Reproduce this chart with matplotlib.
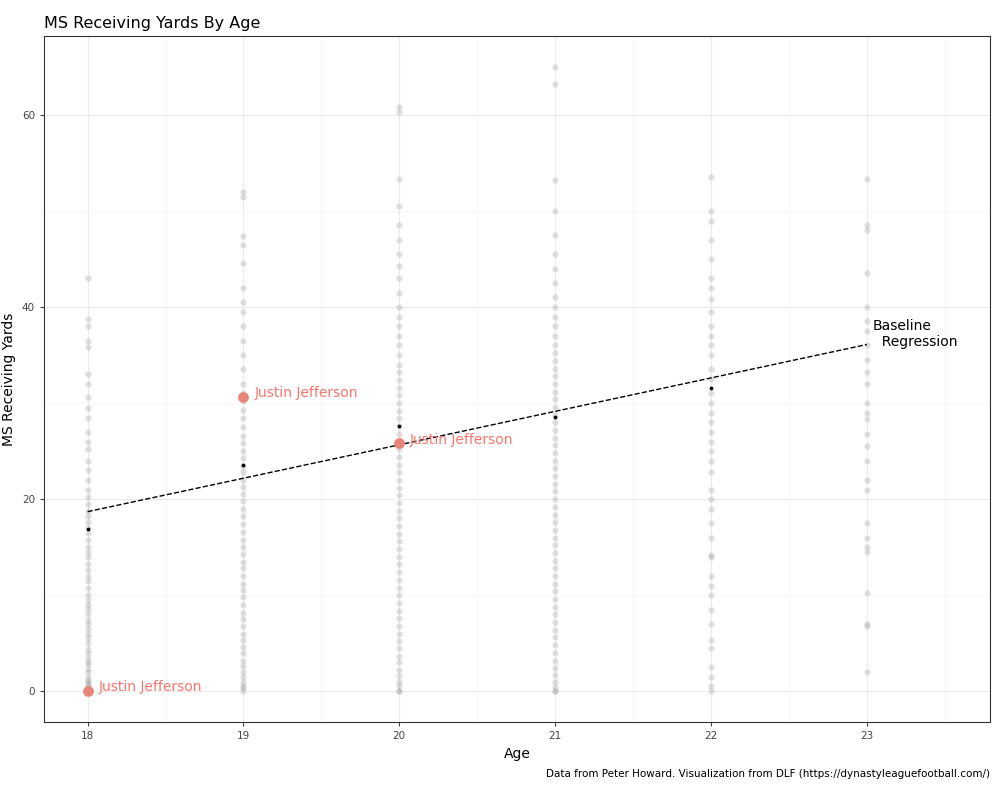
import numpy as np
import matplotlib; matplotlib.use("Agg")
import matplotlib.pyplot as plt

# gray points: MS receiving yards read (approximately) by age
ys18 = [0,0,0,0.3,0.5,0.8,1,1.2,1.5,2,2.3,2.8,3,3.5,4,4.4,5,5.5,6,6.5,7,7.4,8,8.6,9,9.5,10,10.8,11.5,12,12.6,13.2,14,14.5,15,15.8,16.5,17,17.6,18.2,18.8,19.5,20.2,21,22,23,24,25.2,26,27,28.5,29.5,30.6,32,33,35.8,36.5,38,38.8,43]
ys19 = [0,0.3,0.6,1,1.5,2,2.6,3.2,4,4.6,5.3,6,6.8,7.5,8.2,9,9.8,10.5,11.2,12,12.8,13.5,14.3,15,15.8,16.6,17.4,18.2,19,19.8,20.5,21.3,22,22.8,23.5,24.3,25,25.8,26.6,27.5,28.4,29.3,30.2,31,32,33.5,35,36.5,38,39.5,40.5,42,44.6,46.5,47.4,51.5,52]
ys20 = [0,0,0.5,1,1.6,2.2,3,3.7,4.5,5.2,6,6.8,7.6,8.4,9.2,10,10.8,11.6,12.4,13.2,14,14.8,15.6,16.4,17.2,18,18.8,19.6,20.4,21.2,22,22.8,23.6,24.4,25.2,26,26.8,27.6,28.4,29.2,30,30.8,31.6,32.4,33.2,34,35,36,37,38,39,40,41.5,43,44.3,45.5,47,48.5,50.5,53.3,60.3,60.8]
ys21 = [0,0,0.4,1,1.7,2.4,3.2,4,4.8,5.6,6.4,7.2,8,8.8,9.6,10.4,11.2,12,12.8,13.6,14.4,15.2,16,16.8,17.6,18.4,19.2,20,20.8,21.6,22.4,23.2,24,24.8,25.6,26.4,27.2,28,28.8,29.6,30.4,31.2,32,32.8,33.6,34.4,35.2,36,37,38,39,40,41,42.5,44,45.5,47.5,50,53.2,63.2,65]
ys22 = [0,0.5,1.5,2.5,4.5,5.3,7,8.5,10,11,12,14,14.2,16,17.5,19,20,21,22.8,24,25,26,27,28,29,30,31,32.5,33.5,35,36,37,38,39.5,40.8,42,43,45,47,49,50,53.5]
ys23 = [2,6.8,7,10.2,14.5,15,16,17.5,21,22,24,25.5,26.8,28.3,29,30,32,33.2,34.5,36,37.5,38.5,40,43.5,48,48.5,53.3]
ages = [18, 19, 20, 21, 22, 23]
series = [ys18, ys19, ys20, ys21, ys22, ys23]

mean_ages = [18, 19, 20, 21, 22]
mean_vals = [16.9, 23.6, 27.6, 28.6, 31.6]
reg_x = [18, 23]
reg_y = [18.7, 36.1]
jj_age = [18, 19, 20]
jj_val = [0, 30.6, 25.8]

fig = plt.figure(figsize=(10.06, 7.86), dpi=100)
ax = fig.add_axes([0.0437, 0.0814, 0.9403, 0.8726])
for a, ys in zip(ages, series):
    ax.scatter([a] * len(ys), ys, s=20, color='#9a9a9a', alpha=0.3, linewidths=0, zorder=2)
ax.scatter(mean_ages, mean_vals, s=3, color='black', zorder=3)
ax.plot(reg_x, reg_y, ls='--', color='black', lw=1, zorder=3)
ax.text(23.04, 37.2, 'Baseline\n  Regression', fontsize=10, va='center')
ax.scatter(jj_age, jj_val, s=45, color='#e8857a', zorder=4)
for a, v in zip(jj_age, jj_val):
    ax.text(a + 0.07, v + 0.4, 'Justin Jefferson', color='#f8766d', fontsize=10, va='center')

ax.set_xlim(17.72, 23.79)
ax.set_ylim(-3.2, 68.2)
ax.set_xticks(range(18, 24))
ax.set_yticks([0, 20, 40, 60])
ax.set_xticks(np.arange(18.5, 24, 1), minor=True)
ax.set_yticks([10, 30, 50], minor=True)
ax.grid(which='major', color='#ebebeb', lw=0.8)
ax.grid(which='minor', color='#f4f4f4', lw=0.5)
ax.set_axisbelow(True)
ax.tick_params(which='both', length=3, labelsize=7.5, colors='#444444')
ax.tick_params(which='minor', length=0)
for s in ax.spines.values():
    s.set_color('#333333')
ax.set_xlabel('Age', fontsize=10)
ax.set_ylabel('MS Receiving Yards', fontsize=10)
ax.set_title('MS Receiving Yards By Age', loc='left', fontsize=11.5)
fig.text(0.984, 0.012, 'Data from Peter Howard. Visualization from DLF (https://dynastyleaguefootball.com/)',
         ha='right', fontsize=7.5)
fig.savefig('out.png', dpi=100)
